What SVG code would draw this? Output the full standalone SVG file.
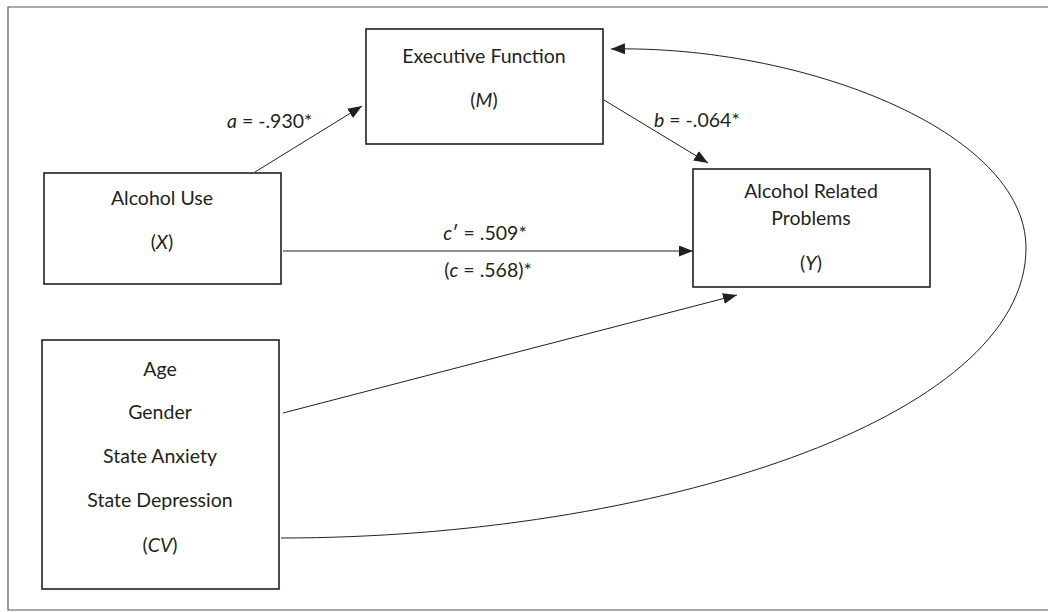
<svg xmlns="http://www.w3.org/2000/svg" width="1048" height="612" viewBox="0 0 1048 612">
<style>
.box{fill:#fff;stroke:#231f20;stroke-width:1.6}
.t{font-family:Lato,"Open Sans",sans-serif;font-size:19.5px;fill:#231f20;text-anchor:middle}
.l{font-family:Lato,"Open Sans",sans-serif;font-size:19.5px;fill:#231f20}
.c{fill:none;stroke:#231f20;stroke-width:1}
</style>
<defs>
<marker id="ah" markerUnits="userSpaceOnUse" markerWidth="15" markerHeight="12" refX="14" refY="5.5" orient="auto">
<path d="M0,0 L14,5.5 L0,11 Z" fill="#231f20"/>
</marker>
</defs>
<rect width="1048" height="612" fill="#fff"/>
<path d="M1048,7 H8 V610 H1048" fill="none" stroke="#555" stroke-width="1.2"/>
<g id="connectors">
<line class="c" x1="255" y1="172" x2="362" y2="106" marker-end="url(#ah)"/>
<line class="c" x1="604" y1="100" x2="708" y2="163" marker-end="url(#ah)"/>
<line class="c" x1="283" y1="251" x2="693" y2="251" marker-end="url(#ah)"/>
<line class="c" x1="283" y1="413" x2="737" y2="295" marker-end="url(#ah)"/>
<path class="c" d="M281,538 C650,538 1026,420 1026,248 C1026,130 800,45 611,49" marker-end="url(#ah)"/>
<text class="l" x="227" y="128"><tspan font-style="italic">a</tspan> = -.930*</text>
<text class="l" x="654" y="127"><tspan font-style="italic">b</tspan> = -.064*</text>
<text class="t" x="485" y="240"><tspan font-style="italic">c</tspan>′ = .509*</text>
<text class="t" x="488" y="277">(<tspan font-style="italic">c</tspan> = .568)*</text>
</g>
<g id="mediator">
<rect class="box" x="366" y="29" width="237" height="115"/>
<text class="t" x="484" y="63">Executive Function</text>
<text class="t" x="484" y="107">(<tspan font-style="italic">M</tspan>)</text>
</g>
<g id="predictor">
<rect class="box" x="44" y="173" width="237" height="111"/>
<text class="t" x="162" y="205">Alcohol Use</text>
<text class="t" x="162" y="249">(<tspan font-style="italic">X</tspan>)</text>
</g>
<g id="outcome">
<rect class="box" x="693" y="169" width="237" height="118"/>
<text class="t" x="811" y="198">Alcohol Related</text>
<text class="t" x="811" y="225">Problems</text>
<text class="t" x="811" y="270">(<tspan font-style="italic">Y</tspan>)</text>
</g>
<g id="covariates">
<rect class="box" x="42" y="340" width="237" height="249"/>
<text class="t" x="160" y="376">Age</text>
<text class="t" x="160" y="419">Gender</text>
<text class="t" x="160" y="463">State Anxiety</text>
<text class="t" x="160" y="507">State Depression</text>
<text class="t" x="160" y="552">(<tspan font-style="italic">CV</tspan>)</text>
</g>
</svg>
